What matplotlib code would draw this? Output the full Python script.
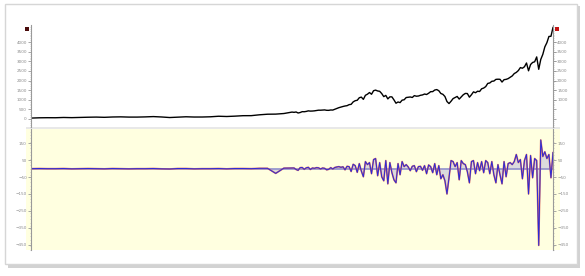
import numpy as np
import matplotlib.pyplot as plt
from matplotlib.patches import Rectangle
from matplotlib.ticker import MultipleLocator

# yearly closes 1957-1989, then quarterly closes 1990-2021
early_years = np.arange(1958, 1991)
early_price = [40, 55, 60, 58, 72, 63, 75, 85, 92, 80, 97, 104, 92, 92, 102,
               118, 98, 69, 90, 108, 95, 96, 108, 136, 123, 141, 165, 167,
               211, 242, 247, 278, 353]
quarter_x = np.arange(1990.25, 2022.01, 0.25)
quarter_price = [
    340, 358, 306, 330, 375, 371, 388, 417, 404, 408, 418, 436,
    452, 451, 459, 466, 446, 444, 463, 459, 501, 545, 584, 616,
    645, 671, 687, 741, 757, 885, 947, 970, 1102, 1134, 1017, 1229,
    1286, 1373, 1283, 1469, 1499, 1455, 1437, 1320, 1160, 1224, 1041, 1148,
    1147, 990, 815, 880, 848, 975, 996, 1112, 1126, 1141, 1115, 1212,
    1181, 1191, 1229, 1248, 1295, 1270, 1336, 1418, 1421, 1503, 1527, 1468,
    1323, 1280, 1166, 903, 798, 919, 1057, 1115, 1169, 1031, 1141, 1258,
    1326, 1321, 1131, 1258, 1408, 1362, 1441, 1426, 1569, 1606, 1682, 1848,
    1872, 1960, 1972, 2059, 2068, 2063, 1920, 2044, 2060, 2099, 2168, 2239,
    2363, 2423, 2519, 2674, 2641, 2718, 2914, 2507, 2834, 2942, 2977, 3231,
    2585, 3100, 3363, 3756, 3973, 4298, 4308, 4766]

early_change = [0, 1, 0, 0, 1, -1, 0, 1, 0, -1, 1, 0, -1, 0, 0, 1, -1, -2, 1,
                1, -1, 0, 0, 1, -1, 1, 1, 0, 2, 2, -28, 3, 4]
quarter_change = [
    4, -5, -10, 6, 7, -4, 5, 8, -5, 4, 2, 6,
    5, -2, 4, 2, -7, -4, 6, -2, 7, 10, 12, 8,
    11, -7, 14, 12, -17, 26, 18, -22, 30, -14, -48, 42,
    24, 36, -30, 54, 60, -42, 36, -48, -72, 48, -90, 36,
    -24, -66, -84, 30, -36, 42, 12, 24, 10, -12, 14, 18,
    -18, 12, 14, -10, 18, -30, 22, 12, -24, 30, -36, 18,
    -60, -36, -72, -150, -54, 48, 42, 12, 36, -66, 48, 30,
    24, -18, -84, 42, 48, -30, 36, -12, 42, -24, 48, 36,
    -30, 42, -36, -84, 24, -36, -90, 42, -48, 30, 36, 24,
    42, 84, 36, 54, -60, 48, 84, -150, 78, -54, 60, 48,
    -455, 170, 72, 100, 60, 84, -54, 96]

top_ticks = [0, 500, 1000, 1500, 2000, 2500, 3000, 3500, 4000]
right_ticks = [1000, 1500, 2000, 2500, 3000, 3500, 4000]
bottom_ticks = [150, 50, -50, -150, -250, -350, -450]

x = np.concatenate([early_years, quarter_x])
price = np.array(early_price + quarter_price)
change = np.array(early_change + quarter_change)

W, H = 585, 276
fig = plt.figure(figsize=(W / 100, H / 100), dpi=100)

def box(x0, y0, x1, y1):
    # pixel box (top-left origin) -> figure fraction
    return [x0 / W, 1 - y1 / H, (x1 - x0) / W, (y1 - y0) / H]

# card with shadow
fig.add_artist(Rectangle((8 / W, 1 - 268 / H), 572 / W, 262 / H, transform=fig.transFigure,
                         facecolor='#d2d2d2', edgecolor='none', zorder=0))
fig.add_artist(Rectangle((5 / W, 1 - 264 / H), 572 / W, 260 / H, transform=fig.transFigure,
                         facecolor='white', edgecolor='#d6d6d6', lw=1, zorder=0))
# yellow band behind lower panel, grey separator
fig.add_artist(Rectangle((26 / W, 1 - 250 / H), 534 / W, 122 / H, transform=fig.transFigure,
                         facecolor='#ffffe0', edgecolor='none', zorder=0))
fig.add_artist(Rectangle((26 / W, 1 - 129 / H), 534 / W, 2 / H, transform=fig.transFigure,
                         facecolor='#e8e8e8', edgecolor='none', zorder=0))

ax1 = fig.add_axes(box(31, 25, 553, 127))
ax2 = fig.add_axes(box(31, 129, 553, 250))
for ax in (ax1, ax2):
    ax.patch.set_alpha(0)
    ax.set_xlim(1958.0, 2022.0)
    ax.set_xticks([])
    for s in ('top', 'bottom'):
        ax.spines[s].set_visible(False)
    for s in ('left', 'right'):
        ax.spines[s].set_color('#9a9a9a')
        ax.spines[s].set_linewidth(0.8)
    ax.tick_params(axis='y', which='major', length=2, width=0.6, colors='#9a9a9a',
                   labelsize=3, labelcolor='#8a8a8a', pad=1)
    ax.tick_params(axis='y', which='minor', length=1, width=0.4, colors='#b0b0b0')

ax1.plot(x, price, color='black', lw=1.0)
ax1.set_ylim(-425, 4896)
ax1.set_yticks(top_ticks)
ax1.yaxis.set_minor_locator(MultipleLocator(100))
ax1.tick_params(axis='y', which='both', right=True)
sec = ax1.secondary_yaxis('right')
sec.set_yticks(right_ticks)
sec.spines['right'].set_visible(False)
sec.tick_params(length=2, width=0.6, colors='#9a9a9a', labelsize=3, labelcolor='#8a8a8a', pad=1)

ax2.fill_between(x, change, 0, color='#b8b8dc', alpha=0.5, lw=0)
ax2.axhline(0, color='#9090cc', lw=1.2, zorder=1)
ax2.plot(x, change, color='#e07060', lw=1.2, solid_capstyle='round')
ax2.plot(x, change, color='#2a2ad8', lw=0.7)
ax2.set_ylim(-482, 235)
ax2.set_yticks(bottom_ticks)
ax2.yaxis.set_minor_locator(MultipleLocator(20))
ax2.tick_params(axis='y', which='both', right=True, labelright=True)

# small series markers at the top corners
fig.add_artist(Rectangle((25 / W, 1 - 31 / H), 4 / W, 4 / H, transform=fig.transFigure,
                         facecolor='#4a0c0c', edgecolor='none'))
fig.add_artist(Rectangle((555 / W, 1 - 31 / H), 4 / W, 4 / H, transform=fig.transFigure,
                         facecolor='#c41414', edgecolor='none'))

fig.savefig('out.png', dpi=100)
